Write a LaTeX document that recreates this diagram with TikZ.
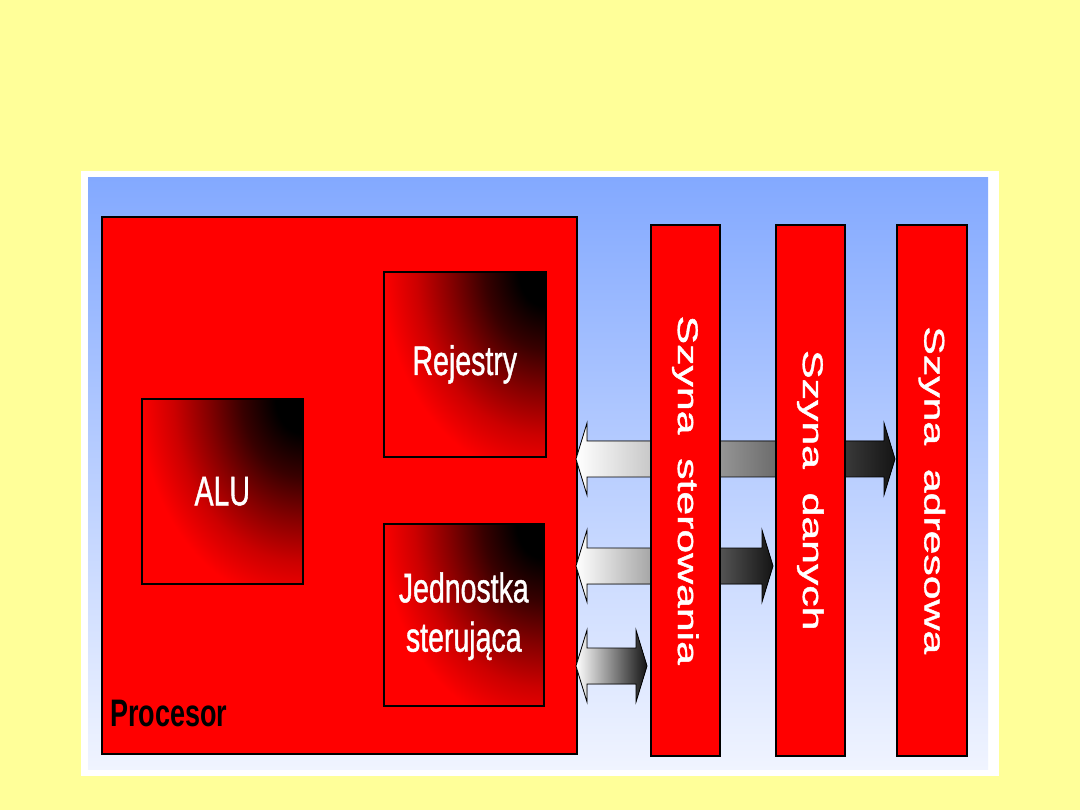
\documentclass[tikz,border=0pt]{standalone}
\usepackage{fontspec}
\setmainfont{Liberation Sans}
\newfontfamily\boxfont[FakeBold=1.2]{Liberation Sans}
\definecolor{bgyellow}{HTML}{FFFF99}
\definecolor{bluetop}{HTML}{83A9FF}
\definecolor{bluebot}{HTML}{F0F4FF}
\pgfdeclareradialshading{cornershade}{\pgfpointorigin}{color(0bp)=(black); color(4bp)=(black); color(9bp)=(red!22!black); color(14bp)=(red!52!black); color(19bp)=(red!80!black); color(24bp)=(red); color(50bp)=(red)}
\newcommand{\dbarrow}[3]{%
  \filldraw[arrowbox] (#1,#3) -- (#1+11,#3-36) -- (#1+11,#3-18) -- (#2-11,#3-18) -- (#2-11,#3-36) -- (#2,#3)
  -- (#2-11,#3+36) -- (#2-11,#3+18) -- (#1+11,#3+18) -- (#1+11,#3+36) -- cycle;}
\begin{document}
\begin{tikzpicture}[x=1pt,y=-1pt,
  redbox/.style={draw=black, line width=1.6pt, fill=red, inner sep=0pt},
  gradbox/.style={redbox, path picture={\shade[shading=cornershade] (path picture bounding box.north east) ellipse [x radius=170pt, y radius=215pt];}},
  arrowbox/.style={draw=black, line width=0.8pt, left color=white, right color=black!92},
  htext/.style={text=white, font=\boxfont\fontsize{28.5}{35}\selectfont, align=center, inner sep=0pt},
  vtext/.style={text=white, font=\boxfont\fontsize{28.5}{34}\selectfont, rotate=-90, inner sep=0pt}]
\useasboundingbox (0,0) rectangle (1080,810);
\fill[bgyellow] (0,0) rectangle (1080,810);
\fill[white] (81,171) rectangle (999,776);
\shade[top color=bluetop, bottom color=bluebot] (88,178) rectangle (988,769);
% processor
\node[redbox, anchor=north west, minimum width=475pt, minimum height=537pt] (proc) at (101,216) {};
\node[gradbox, anchor=north west, minimum width=162pt, minimum height=185pt] (rej) at (383,271) {};
\node[gradbox, anchor=north west, minimum width=161pt, minimum height=185pt] (alu) at (141,398) {};
\node[gradbox, anchor=north west, minimum width=160pt, minimum height=182pt] (jed) at (383,523) {};
\node[htext] at (rej.center) {\scalebox{1}[1.45]{Rejestry}};
\node[htext] at (alu.center) {\scalebox{1}[1.45]{ALU}};
\node[htext] at ([yshift=-2pt]jed.center) {\scalebox{1}[1.45]{\begin{tabular}{@{}c@{}}Jednostka\\[-1pt] sterująca\end{tabular}}};
\node[anchor=west, font=\fontsize{27}{31}\selectfont\bfseries, inner sep=0pt] (proclabel) at (110,713) {\scalebox{1}[1.42]{Procesor}};
% arrows (behind the buses)
\dbarrow{576}{895}{459}
\dbarrow{576}{773}{566}
\dbarrow{576}{647}{666}
% buses
\node[redbox, anchor=north west, minimum width=69pt, minimum height=531pt] (ster) at (650,224) {};
\node[redbox, anchor=north west, minimum width=69pt, minimum height=531pt] (dan) at (775,224) {};
\node[redbox, anchor=north west, minimum width=70pt, minimum height=531pt] (adr) at (896,224) {};
\node[vtext] at (ster.center) {\scalebox{1.5}[1]{Szyna\ \ sterowania}};
\node[vtext] at (dan.center) {\scalebox{1.5}[1]{Szyna\ \ danych}};
\node[vtext] at (adr.center) {\scalebox{1.5}[1]{Szyna\ \ adresowa}};
\end{tikzpicture}
\end{document}
